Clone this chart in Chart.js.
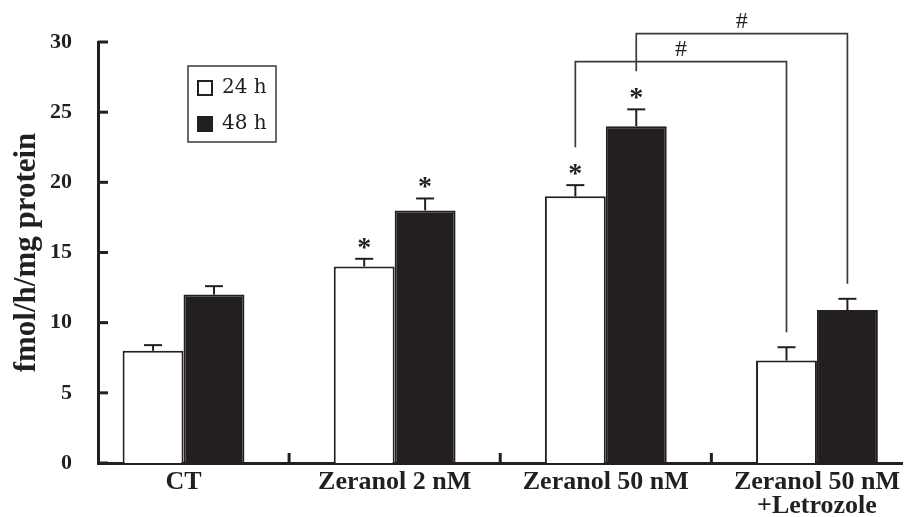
<!DOCTYPE html>
<html>
<head>
<meta charset="utf-8">
<script src="https://cdn.jsdelivr.net/npm/chart.js@4.4.1/dist/chart.umd.min.js"></script>
<style>
html, body { margin: 0; padding: 0; background: #fff; }
</style>
</head>
<body>
<canvas id="chart" width="907" height="517"></canvas>
<script>
// Dados
const categories = ['CT', 'Zeranol 2 nM', 'Zeranol 50 nM', ['Zeranol 50 nM', '+Letrozole']];
const seriesNames = ['24 h', '48 h'];
const values24 = [8.0, 14.0, 19.0, 7.3];
const values48 = [12.0, 18.0, 24.0, 10.9];
const errors24 = [0.4, 0.55, 0.8, 0.95];
const errors48 = [0.6, 0.85, 1.2, 0.8];
const stars24 = [false, true, true, false];
const stars48 = [false, true, true, false];
const yTicks = [0, 5, 10, 15, 20, 25, 30];
// comparações: [série, categoria de, categoria até, nível]
const brackets = [[0, 2, 3, 28.6], [1, 2, 3, 30.6]];

const ink = '#231f20';
const errors = [errors24, errors48];
const values = [values24, values48];
const stars = [stars24, stars48];

function line(ctx, x1, y1, x2, y2) {
    ctx.beginPath();
    ctx.moveTo(x1, y1);
    ctx.lineTo(x2, y2);
    ctx.stroke();
}

// Marcas internas, barras de erro, asteriscos, colchetes e legenda
const annotations = {
    id: 'annotations',
    afterDraw(chart) {
        const { ctx, chartArea, scales: { x, y } } = chart;
        ctx.save();
        ctx.strokeStyle = ink;
        ctx.fillStyle = ink;

        // ticks para dentro
        ctx.lineWidth = 3;
        yTicks.forEach(v => {
            const py = y.getPixelForValue(v);
            line(ctx, chartArea.left, py, chartArea.left + 10, py);
        });
        for (let i = 0; i < categories.length - 1; i++) {
            const px = x.getPixelForValue(i + 0.5);
            line(ctx, px, chartArea.bottom, px, chartArea.bottom - 10);
        }

        // barras de erro e asteriscos
        ctx.font = 'bold 28px "Liberation Serif"';
        ctx.textAlign = 'center';
        ctx.textBaseline = 'alphabetic';
        [0, 1].forEach(d => {
            const meta = chart.getDatasetMeta(d);
            meta.data.forEach((el, j) => {
                const top = y.getPixelForValue(values[d][j] + errors[d][j]);
                ctx.lineWidth = 2;
                line(ctx, el.x, el.y, el.x, top);
                line(ctx, el.x - 9, top, el.x + 9, top);
                if (stars[d][j]) ctx.fillText('*', el.x, top - 3);
            });
        });

        // colchetes
        ctx.strokeStyle = '#3a3a3a';
        ctx.lineWidth = 1.7;
        ctx.font = '24px "Liberation Serif"';
        ctx.textBaseline = 'middle';
        brackets.forEach(([d, a, b, level]) => {
            const meta = chart.getDatasetMeta(d);
            const ea = meta.data[a], eb = meta.data[b];
            const capA = y.getPixelForValue(values[d][a] + errors[d][a]);
            const capB = y.getPixelForValue(values[d][b] + errors[d][b]);
            const ly = y.getPixelForValue(level);
            ctx.beginPath();
            ctx.moveTo(ea.x, capA - 38);
            ctx.lineTo(ea.x, ly);
            ctx.lineTo(eb.x, ly);
            ctx.lineTo(eb.x, capB - 15);
            ctx.stroke();
            ctx.fillText('#', (ea.x + eb.x) / 2, ly - 12);
        });

        // legenda
        ctx.strokeStyle = '#3a3a3a';
        ctx.lineWidth = 1.5;
        ctx.strokeRect(188, 66, 88, 76);
        ctx.font = '20px "DejaVu Serif"';
        ctx.textAlign = 'left';
        chart.data.datasets.forEach((ds, i) => {
            const top = 81 + i * 36;
            ctx.fillStyle = ds.backgroundColor;
            ctx.fillRect(198, top, 14, 14);
            ctx.strokeStyle = ink;
            ctx.lineWidth = 2;
            ctx.strokeRect(198, top, 14, 14);
            ctx.fillStyle = ink;
            ctx.fillText(ds.label, 222, top + 7);
        });
        ctx.restore();
    }
};

Chart.defaults.font.family = '"Liberation Serif"';
Chart.defaults.color = ink;

new Chart(document.getElementById('chart'), {
    type: 'bar',
    data: {
        datasets: [{
            label: seriesNames[0],
            data: values24.map((v, i) => ({ x: i, y: v })),
            backgroundColor: '#ffffff',
            borderColor: ink,
            borderWidth: 2
        }, {
            label: seriesNames[1],
            data: values48.map((v, i) => ({ x: i, y: v })),
            backgroundColor: ink,
            borderColor: ink,
            borderWidth: 2
        }]
    },
    options: {
        responsive: false,
        animation: false,
        layout: { padding: { top: 42, left: 0, right: 0, bottom: 0 } },
        datasets: { bar: { categoryPercentage: 0.577, barPercentage: 1 } },
        plugins: {
            legend: { display: false },
            tooltip: { enabled: false }
        },
        scales: {
            x: {
                type: 'linear',
                min: -0.405,
                max: 3.405,
                offset: false,
                grid: { display: false, drawTicks: false },
                border: { display: true, width: 3, color: ink },
                afterBuildTicks: scale => { scale.ticks = categories.map((c, i) => ({ value: i })); },
                afterFit: scale => { scale.height = 54; },
                ticks: {
                    autoSkip: false,
                    maxRotation: 0,
                    padding: 7,
                    font: { size: 26, weight: 'bold', lineHeight: 0.92 },
                    callback: value => categories[value]
                }
            },
            y: {
                min: 0,
                max: 30,
                grid: { display: false, drawTicks: false },
                border: { display: true, width: 3, color: ink },
                afterBuildTicks: scale => { scale.ticks = yTicks.map(v => ({ value: v })); },
                afterFit: scale => { scale.width = 98; },
                ticks: {
                    padding: 26,
                    font: { size: 22, weight: 'bold' }
                },
                title: {
                    display: true,
                    text: 'fmol/h/mg protein',
                    padding: { top: 8, bottom: 0 },
                    font: { size: 31, weight: 'bold' }
                }
            }
        }
    },
    plugins: [annotations]
});
</script>
</body>
</html>
